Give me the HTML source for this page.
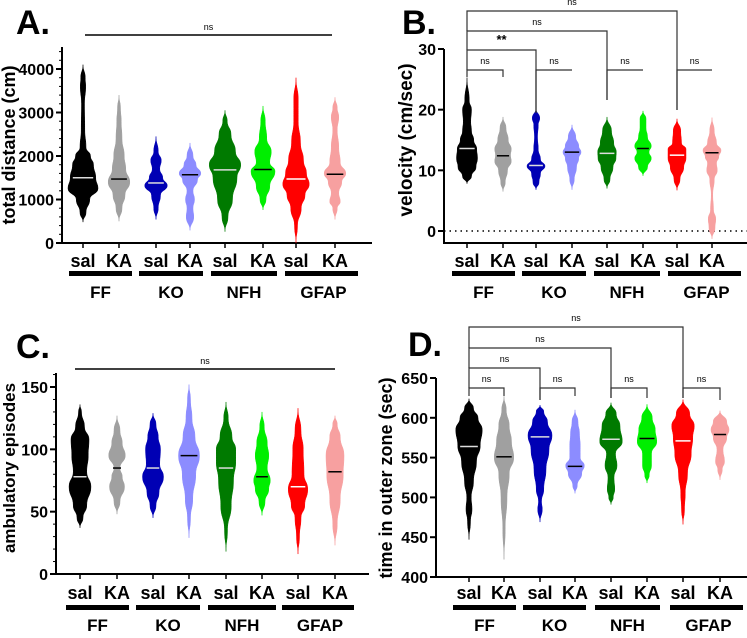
<!DOCTYPE html>
<html><head><meta charset="utf-8">
<style>
body{margin:0;background:#fff;}
svg text{font-family:"Liberation Sans",Arial,sans-serif;font-weight:bold;fill:#000;}
</style></head>
<body>
<svg id="fig" width="747" height="633" viewBox="0 0 747 633" xmlns="http://www.w3.org/2000/svg"></svg>
<script>
const groupNames = ["FF","KO","NFH","GFAP"];
const condNames = ["sal","KA"];
const colors = ["#000000","#a0a0a0","#0000b4","#8c8cff","#007a00","#00ee00","#ff0000","#f7a0a0"];
const medColors = ["#dddddd","#000","#dddddd","#000","#dddddd","#000","#ffffff","#000"];

// Panel A: total distance (cm) — profile [value, relative half-width]
const distProfiles = [
 [[480,0],[700,.2],[1000,.45],[1250,1],[1500,.85],[1800,.7],[2000,.5],[2200,.2],[2600,.12],[3200,.1],[3600,.18],[3800,.15],[4100,0]],
 [[500,0],[800,.2],[1100,.4],[1400,.72],[1700,.45],[2000,.35],[2400,.2],[2800,.15],[3100,.1],[3400,0]],
 [[540,0],[800,.15],[1100,.3],[1320,.75],[1500,.45],[1700,.25],[1900,.35],[2100,.15],[2450,0]],
 [[290,0],[600,.25],[800,.2],[1000,.3],[1200,.2],[1450,.5],[1600,.72],[1800,.4],[2000,.2],[2300,0]],
 [[260,0],[600,.2],[1000,.5],[1500,.8],[1800,1.05],[2100,.7],[2500,.4],[2800,.15],[3050,0]],
 [[760,0],[1000,.2],[1300,.45],[1650,.8],[1850,.45],[2100,.55],[2400,.25],[2800,.15],[3150,0]],
 [[0,0],[400,.1],[800,.35],[1100,.6],[1350,.88],[1600,.7],[1900,.5],[2300,.3],[2800,.15],[3300,.15],[3800,0]],
 [[540,0],[800,.15],[950,.35],[1150,.25],[1400,.45],[1600,.72],[1850,.35],[2200,.25],[2600,.15],[2900,.25],[3100,.15],[3350,0]]
];
const distMedians = [1500,1470,1380,1570,1680,1690,1470,1580];
const distTicks = [0,1000,2000,3000,4000];

// Panel B: velocity (cm/sec)
const velProfiles = [
 [[7.8,0],[9,.3],[10.5,.6],[12,.7],[13.5,.65],[15,.45],[16.5,.3],[18,.25],[20,.3],[21.5,.15],[25.3,0]],
 [[6.5,0],[8,.15],[10,.3],[11.5,.55],[12.5,.5],[13.5,.55],[15,.35],[17,.2],[18.8,0]],
 [[6.8,0],[8,.2],[9.5,.3],[10.7,.6],[11.8,.3],[13.5,.15],[15.5,.1],[17.5,.15],[18.6,.25],[20.2,0]],
 [[6.8,0],[8.5,.15],[10.5,.3],[12,.45],[13,.6],[14,.45],[15.5,.25],[17.5,0]],
 [[7,0],[8.5,.2],[10.5,.4],[12,.6],[13,.62],[14.5,.45],[16.5,.3],[18.8,0]],
 [[9.1,0],[10.5,.3],[12,.55],[13,.4],[14,.55],[15.5,.3],[17,.2],[18.5,.2],[19.8,0]],
 [[6.7,0],[8.5,.2],[10.5,.45],[12,.6],[13.5,.6],[14.5,.3],[16.5,.25],[18.5,0]],
 [[-1.3,0],[0.5,.2],[2,.25],[3.5,.1],[6,.05],[8.5,.15],[10,.35],[11.2,.3],[12.2,.45],[13.3,.6],[14.5,.3],[16.5,.15],[18.7,0]]
];
const velMedians = [13.6,12.4,10.8,13,12.8,13.6,12.5,12.9];
const velTicks = [0,10,20,30];

// Panel C: ambulatory episodes
const ambProfiles = [
 [[37,0],[45,.2],[55,.45],[70,.73],[82,.45],[95,.55],[108,.6],[118,.3],[130,.1],[136,0]],
 [[48,0],[58,.2],[70,.5],[78,.35],[85,.2],[95,.55],[105,.35],[115,.2],[127,0]],
 [[45,0],[55,.2],[65,.4],[78,.7],[88,.45],[100,.5],[110,.35],[120,.2],[129,0]],
 [[29,0],[45,.1],[60,.25],[80,.45],[95,.7],[110,.4],[125,.2],[140,.1],[152,0]],
 [[18,0],[35,.1],[55,.35],[75,.5],[90,.65],[100,.65],[110,.4],[125,.15],[138,0]],
 [[47,0],[58,.2],[68,.45],[75,.55],[85,.35],[95,.45],[105,.35],[118,.15],[130,0]],
 [[16,0],[30,.1],[45,.2],[55,.45],[68,.65],[80,.4],[100,.35],[115,.2],[133,0]],
 [[23,0],[40,.15],[60,.35],[80,.55],[95,.6],[110,.35],[120,.15],[127,0]]
];
const ambMedians = [78,85,85,95,85,78,70,82];
const ambTicks = [0,50,100,150];

// Panel D: time in outer zone (sec)
const outerProfiles = [
 [[447,0],[470,.1],[485,.2],[500,.15],[520,.3],[545,.5],[565,.75],[585,.88],[600,.6],[612,.3],[624,0]],
 [[422,0],[460,.08],[500,.2],[530,.35],[550,.65],[570,.5],[590,.35],[610,.15],[627,0]],
 [[469,0],[485,.15],[495,.1],[510,.25],[535,.4],[560,.6],[578,.8],[595,.5],[608,.25],[616,0]],
 [[505,0],[515,.15],[530,.45],[540,.62],[550,.35],[565,.35],[580,.3],[595,.2],[610,0]],
 [[491,0],[500,.15],[510,.25],[525,.2],[540,.4],[555,.3],[570,.75],[590,.6],[605,.35],[619,0]],
 [[518,0],[528,.15],[540,.3],[555,.3],[570,.65],[585,.55],[600,.35],[617,0]],
 [[466,0],[485,.1],[505,.15],[530,.3],[555,.55],[575,.65],[590,.75],[605,.45],[623,0]],
 [[522,0],[535,.15],[545,.3],[560,.2],[575,.45],[585,.6],[595,.45],[609,0]]
];
const outerMedians = [564,551,576,539,573,574,571,579];
const outerTicks = [400,450,500,550,600,650];

const NS = "http://www.w3.org/2000/svg";
const fig = document.getElementById("fig");
function mk(tag, attrs, parent, text){
  const e = document.createElementNS(NS, tag);
  for (const k in attrs) e.setAttribute(k, attrs[k]);
  if (text !== undefined) e.textContent = text;
  (parent||fig).appendChild(e);
  return e;
}

function panel(cfg){
  const g = mk("g", {});
  
  
  const y = v => cfg.y0 + (v - cfg.vmin) / (cfg.vmax - cfg.vmin) * (cfg.y1 - cfg.y0);
  const L = mk("text", {x:cfg.letterX, y:cfg.letterY, "font-size":34}, g, cfg.letter);
  
  
  const ya = mk("line", {x1:cfg.axX, x2:cfg.axX, y1:cfg.axTop, y2:cfg.axBottom, stroke:"#000", "stroke-width":2}, g);
  
  
  const xa = mk("line", {x1:cfg.axX-1, x2:cfg.axRight, y1:cfg.axBottom, y2:cfg.axBottom, stroke:"#000", "stroke-width":2}, g);
  
  
  if (cfg.minor) {
    for (let v = cfg.ticks[0]; v <= cfg.axTopVal; v += cfg.minor) {
      mk("line", {x1:cfg.axX-3, x2:cfg.axX, y1:y(v), y2:y(v), stroke:"#000", "stroke-width":1}, g);
    }
  }
  cfg.ticks.forEach(t => {
    mk("line", {x1:cfg.axX-6, x2:cfg.axX, y1:y(t), y2:y(t), stroke:"#000", "stroke-width":2}, g);
    const tl = mk("text", {x:cfg.axX-8, y:y(t)+6, "font-size":16, "text-anchor":"end"}, g, String(t));
    
    
  });
  if (cfg.zeroLine) {
    const zl = mk("line", {x1:cfg.axX, x2:cfg.axRight, y1:y(0), y2:y(0), stroke:"#000", "stroke-width":1.5, "stroke-dasharray":"1.5,4"}, g);
    
    
  }
  const yt = mk("text", {x:0, y:0, "font-size":cfg.titleSize||19, "text-anchor":"middle", transform:`translate(${cfg.titleX},${cfg.titleY}) rotate(-90)`}, g, cfg.title);
  
  
  cfg.profiles.forEach((prof, i) => {
    const cx = cfg.xs[i];
    const scale = 15;
    const pts = prof.map(p => [y(p[0]), p[1]*scale]);
    let d = `M${cx},${pts[0][0]}`;
    const side = (arr, sgn) => {
      let s = "";
      for (let k = 1; k < arr.length; k++) {
        const [ya_, wa] = arr[k-1], [yb, wb] = arr[k];
        const my = (ya_ + yb)/2;
        s += ` C${cx+sgn*wa},${my} ${cx+sgn*wb},${my} ${cx+sgn*wb},${yb}`;
      }
      return s;
    };
    d += side(pts, 1);
    d += side(pts.slice().reverse(), -1) + "Z";
    const v = mk("path", {d, fill:colors[i], stroke:colors[i], "stroke-width":0.5}, g);
    
    
    const m = cfg.medians[i];
    let w = 8;
    for (let k = 1; k < prof.length; k++) {
      if (m >= prof[k-1][0] && m <= prof[k][0]) {
        const f = (m - prof[k-1][0])/(prof[k][0]-prof[k-1][0]);
        w = (prof[k-1][1] + f*(prof[k][1]-prof[k-1][1]))*scale*0.8;
      }
    }
    w = Math.max(w, 4);
    const ml = mk("line", {x1:cx-w, x2:cx+w, y1:y(m), y2:y(m), stroke:medColors[i], "stroke-width":1.5}, g);
    
    
    mk("line", {x1:cx, x2:cx, y1:cfg.axBottom, y2:cfg.axBottom+5, stroke:"#000", "stroke-width":1.5}, g);
    const cl = mk("text", {x:cx, y:cfg.condY, "font-size":18, "text-anchor":"middle"}, g, condNames[i%2]);
    
    
  });
  cfg.bars.forEach((b, j) => {
    const r = mk("rect", {x:b[0], y:cfg.barY, width:b[1]-b[0], height:5, fill:"#000"}, g);
    
    
    const t = mk("text", {x:(b[0]+b[1])/2 + (j==3?2:0), y:cfg.groupY, "font-size":17, "text-anchor":"middle"}, g, groupNames[j]);
    
    
  });
  if (cfg.nsLine) {
    const n = cfg.nsLine;
    const l = mk("line", {x1:n[0], x2:n[1], y1:n[2], y2:n[2], stroke:"#000", "stroke-width":1.5}, g);
    
    
    const t = mk("text", {x:(n[0]+n[1])/2, y:n[2]-5, "font-size":9, "text-anchor":"middle", style:"font-weight:normal"}, g, "ns");
    
    
  }
  if (cfg.brackets) {
    cfg.brackets.forEach(b => {
      const x1 = cfg.xs[b[0]], x2 = cfg.xs[b[1]];
      const p = mk("path", {d:`M${x1},${b[3]} L${x1},${b[2]} L${x2},${b[2]} L${x2},${b[4]}`, fill:"none", stroke:"#333", "stroke-width":1.2}, g);
      
      
      const t = mk("text", {x:(x1+x2)/2, y:b[2]-6, "font-size":b[5]=="**"?13:9, "text-anchor":"middle", style:b[5]=="**"?"":"font-weight:normal"}, g, b[5]);
      
      
    });
  }
}

panel({name:"panel-a-total-distance", letter:"A.", letterX:16, letterY:34, vmin:0, vmax:4000, y0:243, y1:69,
  axX:62, axTop:47, axTopVal:4500, axBottom:243, axRight:372, ticks:distTicks, minor:200,
  title:"total distance (cm)", titleX:15, titleY:145, titleSize:18,
  profiles:distProfiles, medians:distMedians, xs:[83,119,156,190,225,263,296,335],
  condY:267, barY:271, groupY:298, bars:[[69,132],[139,203],[211,277],[285,358]],
  nsLine:[85,332,35]});

panel({name:"panel-b-velocity", letter:"B.", letterX:402, letterY:34, vmin:0, vmax:30, y0:231, y1:49,
  axX:444, axTop:49, axBottom:243, axRight:747, ticks:velTicks,
  title:"velocity (cm/sec)", titleX:412, titleY:140,
  profiles:velProfiles, medians:velMedians, xs:[467,503,536,572,607,643,677,712],
  condY:267, barY:271, groupY:298, bars:[[452,515],[522,586],[594,660],[668,741]], zeroLine:true,
  brackets:[[0,1,70,77,77,"ns"],[2,3,70,113,70,"ns"],[4,5,70,100,70,"ns"],[6,7,70,110,70,"ns"],
            [0,2,50,70,113,"**"],[0,4,31,50,100,"ns"],[0,6,11,31,110,"ns"]]});

panel({name:"panel-c-ambulatory-episodes", letter:"C.", letterX:16, letterY:358, vmin:0, vmax:150, y0:574, y1:387,
  axX:56, axTop:373, axTopVal:160, axBottom:574, axRight:369, ticks:ambTicks, minor:10,
  title:"ambulatory episodes", titleX:15, titleY:468, titleSize:17,
  profiles:ambProfiles, medians:ambMedians, xs:[80,117,153,189,226,262,298,335],
  condY:599, barY:605, groupY:631, bars:[[66,129],[136,200],[208,276],[282,354]],
  nsLine:[75,335,369]});

panel({name:"panel-d-outer-zone-time", letter:"D.", letterX:408, letterY:356, vmin:400, vmax:650, y0:577, y1:378,
  axX:436, axTop:378, axBottom:577, axRight:747, ticks:outerTicks,
  title:"time in outer zone (sec)", titleX:392, titleY:478, titleSize:18,
  profiles:outerProfiles, medians:outerMedians, xs:[469,504,540,575,611,647,683,720],
  condY:599, barY:605, groupY:631, bars:[[453,516],[523,586],[595,660],[670,743]],
  brackets:[[0,1,388,396,396,"ns"],[2,3,388,400,396,"ns"],[4,5,388,398,398,"ns"],[6,7,388,398,400,"ns"],
            [0,2,368,388,400,"ns"],[0,4,348,368,398,"ns"],[0,6,327,348,398,"ns"]]});
</script>
</body></html>
